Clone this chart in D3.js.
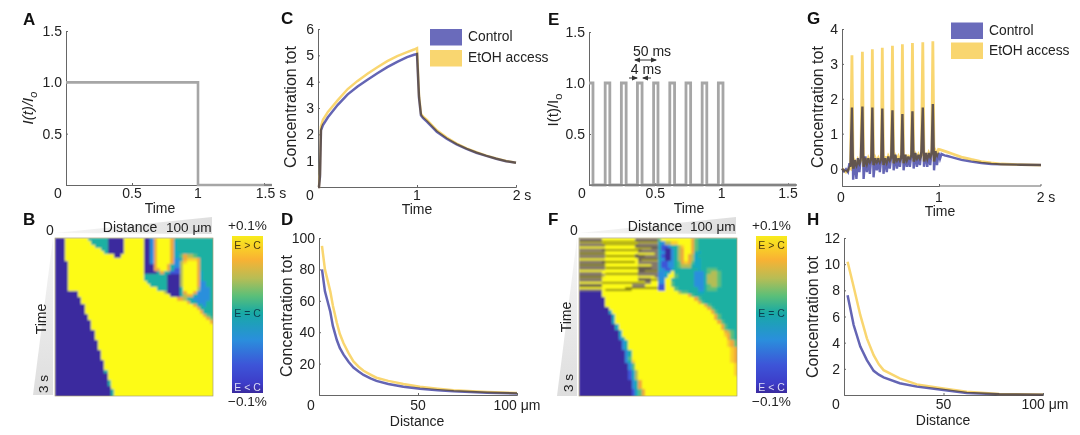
<!DOCTYPE html>
<html><head><meta charset="utf-8">
<script src="https://cdnjs.cloudflare.com/ajax/libs/d3/7.8.5/d3.min.js"></script>
<style>
html,body{margin:0;padding:0;background:#fff}
svg{display:block}
text{font-family:"Liberation Sans",Arial,sans-serif;fill:#222}
</style></head><body>
<svg id="c" width="1080" height="435"></svg>
<script>
// ---- data ----
const pulseAT=[0,1,1,1.56], pulseAV=[1,1,0,0];
const pulseET=[0,0,.03,.03,.122,.122,.157,.157,.244,.244,.28,.28,.365,.365,.4,.4,.487,.487,.52,.52,.609,.609,.645,.645,.731,.731,.766,.766,.853,.853,.888,.888,.975,.975,1.01,1.01,1.56];
const pulseEV=[1,1,1,0,0,1,1,0,0,1,1,0,0,1,1,0,0,1,1,0,0,1,1,0,0,1,1,0,0,1,1,0,0,1,1,0,0];
const seriesNames=["Control","EtOH access"];
const cT=[0,.01,.02,.03,.05,.1,.2,.3,.4,.5,.6,.7,.8,.9,.97,1,1.02,1.04,1.06,1.1,1.2,1.3,1.4,1.5,1.6,1.7,1.8,1.9,2];
const cControl=[0,0,.4,2.15,2.35,2.65,3.12,3.52,3.82,4.07,4.32,4.55,4.75,4.93,5.02,5.05,3.4,2.72,2.62,2.48,2.1,1.83,1.62,1.45,1.3,1.18,1.07,.98,.92];
const cEtoh=[0,0,.5,2.3,2.55,2.85,3.3,3.72,4.03,4.3,4.55,4.78,4.97,5.12,5.22,5.27,3.5,2.78,2.68,2.55,2.15,1.88,1.65,1.47,1.32,1.19,1.08,.99,.92];
const dD=[1.5,3,5.7,7,9,10.5,12.4,15,17.4,20,22.5,26,29,35,42.6,51,60,68,85,100];
const dControl=[80,66,53,44,35,30,25.7,21,17.5,15,12.8,10.6,9,7,5.3,4,3.1,2.4,1.5,1];
const dEtoh=[95,80,66,57,46,39,33,26.5,21.4,18,15.4,13,11,9,7,5.2,4,3,1.9,1.3];
const gT=[0,.02,.04,.06,.075,.085,
.1,.112,.13,.145,.16,.175,.19,
.205,.217,.235,.25,.265,.28,.295,
.305,.317,.335,.35,.365,.38,.395,
.405,.417,.435,.45,.465,.48,.495,
.507,.519,.537,.552,.567,.582,.597,
.607,.619,.637,.652,.667,.682,.697,
.708,.72,.738,.753,.768,.783,.798,
.812,.824,.842,.857,.872,.887,.902,
.913,.925,.94,.955,.97,.985,1,1.03,1.06,1.1,1.2,1.3,1.4,1.5,1.6,1.8,2];
const gControl=[0,-.08,-.02,-.1,.15,.05,
1.75,-.32,.25,-.3,.3,-.1,.35,
1.78,-.3,.35,-.1,.3,-.15,.35,
1.75,-.25,.3,-.05,.3,-.1,.3,
1.72,-.15,.3,-.1,.35,0,.35,
1.67,-.05,.4,0,.3,.05,.4,
1.56,-.05,.4,.05,.35,.05,.4,
1.64,0,.45,.05,.4,.1,.5,
1.75,.05,.45,.05,.45,.1,.55,
1.85,-.05,.5,.1,.45,.28,.42,.38,.36,.33,.25,.2,.16,.13,.12,.11,.1];
const gEtoh=[0,-.05,-.1,-.05,.02,0,
3.25,0,.2,.1,.25,.15,.25,
3.35,.05,.3,.15,.3,.2,.3,
3.42,.1,.3,.2,.3,.2,.3,
3.46,.1,.35,.2,.35,.25,.35,
3.52,.15,.35,.25,.35,.25,.35,
3.56,.15,.4,.25,.35,.3,.4,
3.6,.2,.4,.3,.4,.3,.4,
3.62,.2,.45,.3,.45,.35,.45,
3.65,.2,.5,.4,.55,.54,.53,.5,.47,.43,.33,.26,.2,.16,.13,.11,.1];
const hD=[1.8,4.85,8.2,11.5,14.9,17.5,19.9,28,36.6,50,61.7,78,100];
const hControl=[7.63,5.35,3.7,2.67,1.85,1.55,1.35,.9,.64,.38,.15,.05,.02];
const hEtoh=[10.18,8.27,6.1,4.33,3.05,2.34,1.9,1.27,.81,.5,.25,.08,.03];
// heat levels: code -> colour; each row is code:endColumn runs
const heatCodes=["0","1","2","3","4","5","6","7","8","9","g"];
const heatColors=["#3a2a9e","#3d55d8","#2a8fdc","#18a9c0","#1fb0a2","#5cbf78","#b3bd55","#f0a83a","#fbce2a","#fdfb14","#85796a"];
const heatB=[
"0:3 9:10 4:16 0:21 9:27 0:29 2:30 7:31 9:35 7:36 4:48",
"0:3 9:11 4:16 0:21 9:27 0:29 2:30 7:31 9:35 7:36 3:37 4:48",
"0:3 9:12 4:16 0:21 9:27 0:29 2:30 7:31 9:35 7:36 3:37 4:48",
"0:3 9:14 4:16 0:21 9:27 0:29 2:30 7:31 9:35 7:36 3:37 4:48",
"0:3 9:15 4:16 0:21 9:27 0:29 2:30 7:31 9:35 7:36 3:38 4:48",
"0:3 9:18 0:20 9:27 0:29 2:30 7:31 9:35 7:36 3:38 5:39 7:40 6:42 5:43 4:48",
"0:3 9:27 0:29 2:30 7:31 9:35 7:36 2:38 4:39 7:40 8:43 7:44 4:48",
"0:4 9:27 0:29 2:30 7:31 9:35 7:36 2:38 6:39 8:40 9:43 7:44 4:48",
"0:4 9:27 0:30 7:31 9:34 7:35 4:36 2:38 6:39 9:43 7:44 4:48",
"0:4 9:27 0:30 7:32 9:34 7:35 4:36 1:38 6:39 9:43 7:44 4:48",
"0:4 9:27 0:31 4:32 7:33 4:35 1:38 6:39 9:43 7:44 3:45 4:48",
"0:4 9:27 4:34 0:38 6:39 9:43 7:44 3:45 4:48",
"0:4 9:27 4:34 0:38 6:39 9:43 7:44 3:45 4:48",
"0:4 9:28 4:34 0:38 6:39 9:43 7:44 2:46 4:48",
"0:4 9:29 4:34 0:38 6:39 9:43 7:44 2:46 4:48",
"0:4 9:31 4:34 0:38 4:39 9:43 6:44 2:47 4:48",
"0:7 9:33 6:34 0:38 4:39 7:40 9:42 7:43 2:47 4:48",
"0:7 9:35 0:38 4:39 6:40 7:42 4:43 2:47 4:48",
"0:8 9:37 7:39 6:40 4:42 2:47 4:48",
"0:8 9:40 7:41 4:43 2:46 4:48",
"0:9 9:42 7:43 4:45 2:46 4:48",
"0:9 9:43 7:44 4:48",
"0:9 9:44 7:45 4:48",
"0:10 9:45 7:46 5:47 4:48",
"0:10 9:46 7:47 5:48",
"0:11 9:47 7:48",
"0:11 9:48","0:11 9:48",
"0:12 9:48","0:12 9:48",
"0:12 9:48","0:13 9:48",
"0:13 9:48","0:13 9:48",
"0:14 9:48","0:14 9:48",
"0:14 9:48","0:15 9:48",
"0:15 9:48","0:15 9:48",
"0:15 4:16 9:48","0:16 9:48",
"0:16 9:48","0:16 4:17 9:48",
"0:16 4:17 9:48","0:17 9:48",
"0:17 4:18 9:48","0:17 4:18 9:48"];
const heatF=[
"g:7 9:17 g:24 5:25 9:34 7:35 5:36 4:48",
"g:7 9:18 g:24 3:25 2:26 6:28 8:30 9:34 7:35 5:36 4:48",
"g:8 9:17 g:24 3:25 1:27 2:28 4:30 6:31 8:32 9:34 7:35 5:36 4:48",
"g:8 9:18 g:24 3:25 1:26 0:28 2:29 4:30 6:31 7:32 9:34 7:35 5:36 4:48",
"g:8 9:18 g:24 3:25 2:26 0:28 2:29 4:30 6:31 7:32 9:34 7:35 4:36 3:37 4:48",
"g:8 9:17 g:24 3:25 1:26 0:28 2:29 4:30 6:31 7:32 9:33 7:34 6:35 3:36 4:48",
"g:8 9:18 g:24 3:25 2:26 0:28 2:29 4:30 6:31 7:32 9:33 7:34 6:35 3:37 4:48",
"g:8 9:18 g:24 3:25 1:27 2:29 4:30 5:31 7:32 8:33 7:34 5:35 3:37 4:48",
"g:8 9:18 g:24 3:25 1:27 2:29 4:30 5:31 6:34 4:35 3:37 4:48",
"g:8 9:18 g:24 3:25 2:26 1:28 3:29 4:36 3:37 4:39 5:42 4:48",
"g:7 9:18 g:24 2:26 3:28 9:29 4:30 4:35 2:38 4:39 5:40 6:42 5:43 4:48",
"g:8 9:18 g:24 2:26 3:27 9:29 5:30 4:35 2:38 4:39 6:40 6:42 5:43 4:48",
"g:7 9:18 g:22 9:24 2:26 9:28 4:30 4:35 2:38 4:39 6:40 6:42 5:43 4:48",
"g:7 9:20 g:22 9:24 2:26 9:28 5:29 4:35 2:38 4:39 6:40 6:42 5:43 4:48",
"g:7 9:16 g:20 9:24 1:26 9:28 5:29 4:35 2:38 4:39 5:40 6:42 5:43 4:48",
"g:7 9:24 1:26 9:29 5:30 4:36 2:38 4:39 5:42 4:48",
"0:7 9:30 6:31 5:33 4:36 3:38 4:48",
"0:7 9:33 7:34 5:35 4:48",
"0:8 9:35 7:36 5:37 4:48",
"0:8 9:36 7:37 5:38 4:48",
"0:8 9:38 7:39 5:40 4:48",
"0:9 9:39 7:40 5:41 4:48",
"0:9 3:10 9:40 7:41 5:42 4:48",
"0:10 3:11 9:41 7:42 5:43 4:48",
"0:10 3:11 9:41 7:42 5:43 4:48",
"0:10 3:11 9:42 7:43 5:44 4:48",
"0:11 3:12 9:43 7:44 5:45 4:48",
"0:11 3:12 9:43 7:44 5:45 4:48",
"0:12 3:13 9:44 7:45 6:46 5:47 4:48",
"0:12 3:13 9:44 8:45 7:46 5:47 4:48",
"0:12 2:13 4:14 9:45 7:46 5:47 4:48",
"0:13 2:14 4:15 9:45 8:46 7:47 5:48",
"0:13 2:14 4:15 9:45 8:46 7:47 5:48",
"0:13 2:14 4:15 9:46 8:47 7:48",
"0:14 2:15 4:16 9:46 8:47 7:48",
"0:14 2:15 4:16 9:46 8:47 7:48",
"0:14 2:15 5:16 9:46 8:47 7:48",
"0:14 2:15 4:16 8:17 9:46 8:47 7:48",
"0:15 2:16 5:17 9:47 8:48",
"0:15 2:16 5:17 9:47 8:48",
"0:15 1:16 3:17 6:18 9:47 8:48",
"0:15 1:16 3:17 6:18 9:47 8:48",
"0:15 1:16 3:17 6:18 9:48",
"0:16 2:17 4:18 7:19 9:48",
"0:16 2:17 4:18 7:19 9:48",
"0:16 2:17 4:18 7:19 9:48",
"0:16 1:17 3:18 5:19 7:20 9:48",
"0:16 1:17 3:18 5:19 7:20 9:48"];
// light bands inside the grey pulse stripes of F: [start column, end column, row]
const stripeBands=[[0,8,1.2],[18,24,1.2],[0,8,2.9],[17,22,3],[0,8,4.7],[18,23,4.8],[0,8,6.5],[19,24,6.6],[0,8,8.2],[18,22,8.3],[0,8,10],[20,24,10],[0,8,11.8],[18,23,11.8],[0,7,13.6],[0,7,15.2]];
// thin dark lines across the pulse stripes of F: [start column, end column, row]
const stripeLines=[[0,24,1.1],[7,18,1.9],[17,24,2.9],[7,19,3.7],[0,8,4.7],[8,20,5.5],[18,24,6.5],[7,17,7.3],[0,8,8.2],[8,22,9.1],[18,24,10],[8,18,10.9],[0,7,11.8],[18,24,12.7],[7,20,13.6],[0,7,14.6],[14,24,15.2],[8,16,15.8]];
const cbarStops=[0,.15,.27,.38,.49,.66,.82,.94,1];
const cbarColors=["#f8ec1c","#f9b233","#b7bd55","#5cbf78","#18a9a5","#2a8fdc","#3d55d8","#3d3cc8","#3a2a9e"];

// ---- helpers ----
const svg=d3.select("#c");
const defs=svg.append("defs");
const BLUE="#6a6bbb", LINEBLUE="#6465b4", YEL="#f9d670", GREY="#a6a6a6", AX="#666";
const pairs=(a,b)=>a.map((v,i)=>[v,b[i]]);
const blur=defs.append("filter").attr("id","soft").attr("x","-2%").attr("y","-2%").attr("width","104%").attr("height","104%");
blur.append("feGaussianBlur").attr("stdDeviation",.8);
function txt(x,y,s,o={}){
  const t=svg.append("text").attr("x",x).attr("y",y).attr("font-size",o.size||14)
    .attr("text-anchor",o.anchor||"middle").text(s);
  if(o.weight)t.attr("font-weight",o.weight);
  if(o.italic)t.attr("font-style","italic");
  if(o.fill)t.style("fill",o.fill);
  if(o.rot)t.attr("transform",`rotate(${o.rot} ${x} ${y})`);
  return t;
}
function axes(p){
  const g=svg.append("g");
  const x=d3.scaleLinear().domain(p.xd).range(p.xr), y=d3.scaleLinear().domain(p.yd).range(p.yr);
  const ax=d3.axisBottom(x).tickValues(p.xt).tickSize(-2).tickFormat("");
  const ay=d3.axisLeft(y).tickValues(p.yt).tickSize(-2).tickFormat("");
  g.append("g").attr("transform",`translate(0,${p.yr[0]})`).call(ax);
  g.append("g").attr("transform",`translate(${p.xr[0]},0)`).call(ay);
  g.selectAll("path.domain").attr("stroke",AX).attr("stroke-width",1);
  g.selectAll(".tick line").attr("stroke",AX);
  p.xt.forEach((v,i)=>{const l=p.xl[i]; if(l==null)return;
    txt(x(v)+(p.xo?p.xo[i]:0),p.yr[0]+(p.xdy||13),l);});
  p.yt.forEach((v,i)=>{const l=p.yl[i]; if(l==null)return;
    txt(p.xr[0]-4,y(v)+5,l,{anchor:"end"});});
  return {x,y};
}
function line(sc,pts,col,w,blend){
  const l=d3.line().x(d=>sc.x(d[0])).y(d=>sc.y(d[1]));
  const p=svg.append("path").attr("d",l(pts)).attr("fill","none").attr("stroke",col).attr("stroke-width",w).attr("stroke-linejoin","miter");
  if(blend)p.style("mix-blend-mode","multiply");
}
function legend(x,y,dy,ty){
  [BLUE,YEL].forEach((c,i)=>{
    svg.append("rect").attr("x",x).attr("y",y+i*dy).attr("width",32).attr("height",16.5).attr("fill",c);
    txt(x+38,y+i*dy+ty,seriesNames[i],{size:13.8,anchor:"start"});
  });
}
function wedges(x0,x1,y0,y1,id){
  const gt=defs.append("linearGradient").attr("id",id+"t");
  gt.append("stop").attr("offset",0).attr("stop-color","#f6f6f6");
  gt.append("stop").attr("offset",1).attr("stop-color","#dedede");
  const gl=defs.append("linearGradient").attr("id",id+"l").attr("x1",0).attr("x2",0).attr("y1",0).attr("y2",1);
  gl.append("stop").attr("offset",0).attr("stop-color","#f6f6f6");
  gl.append("stop").attr("offset",1).attr("stop-color","#dedede");
  svg.append("path").attr("d",`M${x0},${y0-5}L${x1},${y0-21}L${x1},${y0-4}Z`).attr("fill",`url(#${id}t)`);
  svg.append("path").attr("d",`M${x0-2},${y0}L${x0-22},${y1}L${x0-2},${y1}Z`).attr("fill",`url(#${id}l)`);
}
function heat(rows,x0,y0,size,id,bands,lines){
  const X=d3.scaleBand().domain(d3.range(48)).range([x0,x0+size]);
  const Y=d3.scaleBand().domain(d3.range(rows.length)).range([y0,y0+size]);
  const C=d3.scaleOrdinal(heatCodes,heatColors);
  const cells=[];
  rows.forEach((r,i)=>{let s=0;r.split(" ").forEach(run=>{const [c,e]=run.split(":");
    cells.push({c,s,e:+e,i});s=+e;});});
  const cw=X.bandwidth(), rh=Y.bandwidth();
  defs.append("clipPath").attr("id",id).append("rect").attr("x",x0).attr("y",y0).attr("width",size).attr("height",size);
  const g=svg.append("g").attr("clip-path",`url(#${id})`).append("g").attr("filter","url(#soft)");
  g.selectAll("rect.cell").data(cells).join("rect").attr("class","cell")
    .attr("x",d=>X(d.s)).attr("y",d=>Y(d.i))
    .attr("width",d=>(d.e-d.s)*cw+.5).attr("height",rh+.5)
    .attr("shape-rendering","crispEdges")
    .attr("fill",d=>C(d.c));
  if(bands) g.selectAll("rect.band").data(bands).join("rect").attr("class","band")
    .attr("x",d=>x0+d[0]*cw).attr("width",d=>(d[1]-d[0])*cw)
    .attr("y",d=>y0+d[2]*rh-.9).attr("height",1.8).attr("fill",C("9"));
  if(lines) g.append("g").selectAll("line").data(lines).join("line")
    .attr("x1",d=>x0+d[0]*cw).attr("x2",d=>x0+d[1]*cw)
    .attr("y1",d=>y0+d[2]*rh).attr("y2",d=>y0+d[2]*rh)
    .attr("stroke","#1e1a10").attr("stroke-width",1);
  svg.append("rect").attr("x",x0).attr("y",y0).attr("width",size).attr("height",size).attr("fill","none").attr("stroke","#9a9060").attr("stroke-width",.6);
}
function cbar(x,y,w,h,id){
  const g=defs.append("linearGradient").attr("id",id).attr("x1",0).attr("x2",0).attr("y1",0).attr("y2",1);
  cbarStops.forEach((s,i)=>g.append("stop").attr("offset",s).attr("stop-color",cbarColors[i]));
  svg.append("rect").attr("x",x).attr("y",y).attr("width",w).attr("height",h).attr("fill",`url(#${id})`);
  const m=x+w/2;
  txt(m,y-6,"+0.1%",{size:13.6});
  txt(m,y+h+13,"−0.1%",{size:13.6});
  txt(m,y+13,"E > C",{size:10.5,fill:"#4a3a10"});
  txt(m,y+81,"E = C",{size:10.5,fill:"#0c3f50"});
  txt(m,y+155,"E < C",{size:10.5,fill:"#dcdcf5"});
}
function heatLabels(o){
  txt(o.zero,235,"0",{size:14});
  txt(o.um,o.by,"100 μm",{size:13.6,anchor:"start"});
  txt(o.dist,o.by,"Distance",{size:14});
  txt(o.tx,o.ty,"Time",{size:14,rot:-90});
  txt(o.tx+2,o.sy,"3 s",{size:13.6,rot:-90,anchor:"start"});
}
function ioLabel(x,y,italic){
  const t=txt(x,y,"I(t)/I",{size:15,rot:-90,italic});
  t.append("tspan").attr("dy",4).attr("font-size",11).text("o");
}

// ---- panel letters ----
[["A",23,25],["B",23,225],["C",281,24],["D",281,225],["E",548,25],["F",548,225],["G",807,24],["H",807,225]]
 .forEach(d=>txt(d[1],d[2],d[0],{size:17,weight:"bold",anchor:"start",fill:"#111"}));

// ---- A ----
let sc=axes({xd:[0,1.5],xr:[66,264],yd:[0,1.5],yr:[185,31],xt:[0,.5,1,1.5],xl:["0","0.5","1","1.5 s"],xo:[-8,0,0,7],yt:[0,.5,1,1.5],yl:[null,"0.5","1.0","1.5"]});
line(sc,pairs(pulseAT,pulseAV),GREY,2.6);
svg.append("path").attr("d","M264,185H272").attr("stroke",AX);
txt(160,213,"Time");
ioLabel(33,108,true);
// ---- C ----
sc=axes({xd:[0,2],xr:[318,516],yd:[0,6],yr:[187,29],xt:[0,1,2],xl:["0","1","2 s"],xo:[-8,0,6],yt:[1,2,3,4,5,6],yl:["1","2","3","4","5","6"]});
line(sc,pairs(cT,cEtoh),YEL,2.5);
line(sc,pairs(cT,cControl),LINEBLUE,2.5,true);
legend(430,29,21,12);
txt(417,213.5,"Time");
txt(296,107,"Concentration tot",{size:16,rot:-90});
// ---- E ----
sc=axes({xd:[0,1.5],xr:[589,788],yd:[0,1.5],yr:[185,32],xt:[0,.5,1,1.5],xl:["0","0.5","1","1.5"],xo:[-7,0,0,0],yt:[.5,1,1.5],yl:["0.5","1.0","1.5"]});
line(sc,pairs(pulseET,pulseEV),GREY,2.8);
svg.append("line").attr("x1",sc.x(0)).attr("x2",797).attr("y1",185).attr("y2",185).attr("stroke","#777").attr("stroke-width",1.5);
txt(689,213,"Time");
ioLabel(558,110,false);
txt(652,56,"50 ms",{size:14});
txt(646,74,"4 ms",{size:14});
const arrowEnd=defs.append("marker").attr("id","ah").attr("viewBox","0 0 6 6").attr("refX",5).attr("refY",3).attr("markerWidth",6).attr("markerHeight",6).attr("orient","auto-start-reverse");
arrowEnd.append("path").attr("d","M0,0.5L6,3L0,5.5Z").attr("fill","#333");
[[635,656,60,true],[629,637,78,false],[651,643,78,false]].forEach(a=>{
  const l=svg.append("line").attr("x1",a[0]).attr("x2",a[1]).attr("y1",a[2]).attr("y2",a[2]).attr("stroke","#333").attr("stroke-width",1).attr("marker-end","url(#ah)");
  if(a[3])l.attr("marker-start","url(#ah)");
});
// ---- G ----
sc=axes({xd:[0,1],xr:[842,939],yd:[-.5,4],yr:[186,29],xt:[0,1],xl:["0","1"],xo:[-1,0],xdy:16,yt:[0,1,2,3,4],yl:["0","1","2","3","4"]});
const gX=d3.scaleLinear().domain([0,2]).range([842,1041]);
svg.append("path").attr("d","M939,186H1041").attr("stroke",AX);
svg.append("line").attr("x1",1041).attr("x2",1041).attr("y1",186).attr("y2",184).attr("stroke",AX);
txt(1046,202,"2 s");
const gs={x:gX,y:sc.y};
line(gs,pairs(gT,gEtoh),YEL,2.8);
line(gs,pairs(gT,gControl),LINEBLUE,2.4,true);
legend(951,22.5,20,12.5);
txt(940,216,"Time");
txt(823,107,"Concentration tot",{size:16,rot:-90});
// ---- D ----
sc=axes({xd:[0,100],xr:[319,517],yd:[0,100],yr:[395,238],xt:[0,50,100],xl:["0","50","100 μm"],xo:[-8,0,0],xdy:15,yt:[20,40,60,80,100],yl:["20","40","60","80","100"]});
line(sc,pairs(dD,dEtoh),YEL,2.5);
line(sc,pairs(dD,dControl),LINEBLUE,2.5,true);
txt(417,426,"Distance");
txt(292,316,"Concentration tot",{size:16,rot:-90});
// ---- H ----
sc=axes({xd:[0,100],xr:[844,1043],yd:[0,12],yr:[395,238],xt:[0,50,100],xl:["0","50","100 μm"],xo:[-8,0,2],xdy:14,yt:[2,4,6,8,10,12],yl:["2","4","6","8","10","12"]});
line(sc,pairs(hD,hEtoh),YEL,2.5);
line(sc,pairs(hD,hControl),LINEBLUE,2.5,true);
txt(943,425,"Distance");
txt(818,317,"Concentration tot",{size:16,rot:-90});
// ---- B / F ----
wedges(55,212,238,395,"wb"); heat(heatB,55,238,158,"cpb");
heatLabels({zero:50,um:166,dist:130,by:232,tx:46,ty:319,sy:393});
cbar(232,236,31,157,"cb");
wedges(579,736,238,396,"wf"); heat(heatF,579,238,158,"cpf",stripeBands,stripeLines);
heatLabels({zero:574,um:690,dist:655,by:231,tx:571,ty:317,sy:392});
cbar(756,236,31,157,"cf");
</script></body></html>
